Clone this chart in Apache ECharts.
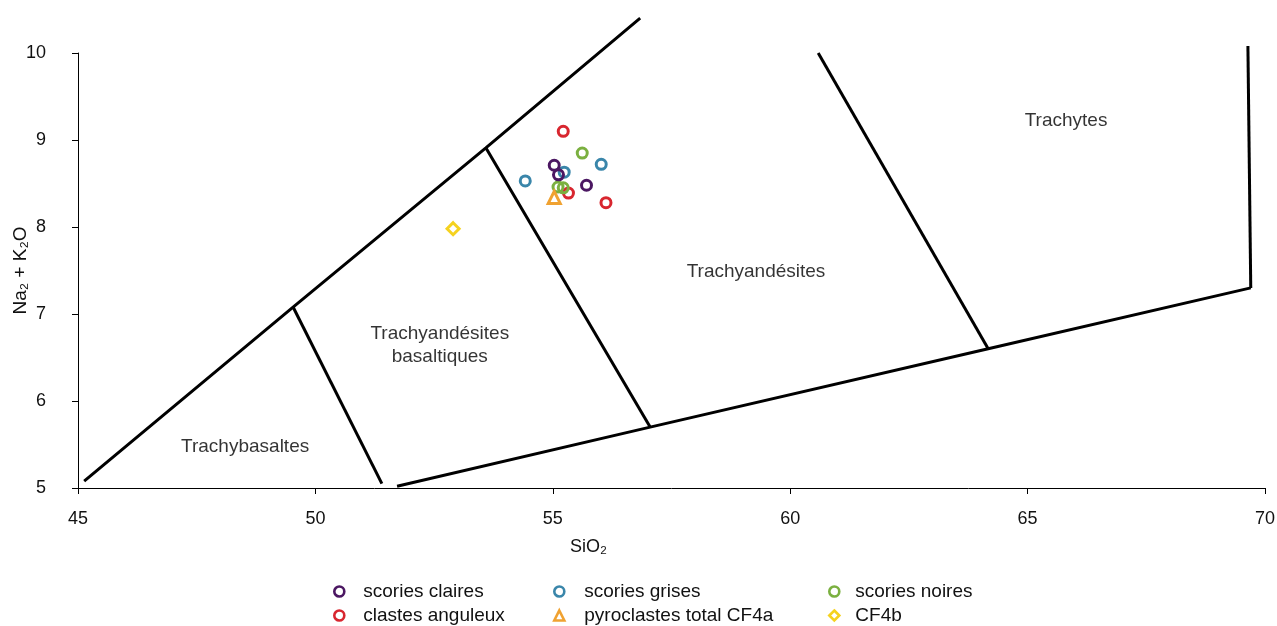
<!DOCTYPE html>
<html>
<head>
<meta charset="utf-8">
<script src="https://cdn.jsdelivr.net/npm/echarts@6/dist/echarts.min.js"></script>
<style>
html,body{margin:0;padding:0;background:#fff;}
#chart{width:1277px;height:626px;}
</style>
</head>
<body>
<div id="chart"></div>
<script>
// ---- data (SiO2, Na2O+K2O) ----
const scoriesClaires = [[55.03, 8.71], [55.12, 8.60], [55.71, 8.48]];
const scoriesGrises = [[56.02, 8.72], [55.24, 8.63], [54.42, 8.53]];
const scoriesNoires = [[55.62, 8.85], [55.11, 8.46], [55.22, 8.45]];
const clastesAnguleux = [[55.22, 9.10], [55.33, 8.39], [56.12, 8.28]];
const pyroclastesCF4a = [[55.03, 8.34]];
const cf4b = [[52.90, 7.98]];

// TAS field boundaries (data coordinates)
const boundaryUpper = [[45.13, 5.08], [49.53, 7.08], [53.59, 8.91], [56.84, 10.40]];
const boundaryTB = [[49.53, 7.08], [51.40, 5.05]];
const boundaryTBA = [[53.59, 8.91], [57.05, 5.70]];
const boundaryLower = [[51.72, 5.02], [57.05, 5.70], [64.17, 6.60], [69.70, 7.30]];
const boundaryTA = [[60.59, 10.0], [64.17, 6.60]];
const boundaryRight = [[69.70, 7.30], [69.64, 10.08]];

const fieldLabels = [
  {name: 'Trachytes', value: [65.81, 9.22]},
  {name: 'Trachyandésites', value: [59.28, 7.49]},
  {name: 'Trachyandésites\nbasaltiques', value: [52.62, 6.64]},
  {name: 'Trachybasaltes', value: [48.52, 5.47]}
];

const xTicks = [45, 50, 55, 60, 65, 70];
const yTicks = [5, 6, 7, 8, 9, 10];

const legendRows = [
  ['scories claires', 'scories grises', 'scories noires'],
  ['clastes anguleux', 'pyroclastes total CF4a', 'CF4b']
];

const FONT = '"Liberation Sans", Arial, Helvetica, sans-serif';
const colors = {
  claires: '#4b1762',
  grises: '#3a86aa',
  noires: '#7bb040',
  clastes: '#d8262f',
  cf4a: '#f0a231',
  cf4b: '#f5d21f'
};

function boundary(data) {
  return {
    type: 'line', data: data, symbol: 'none', clip: false, silent: true,
    lineStyle: {color: '#000', width: 3}, z: 1, legendHoverLink: false
  };
}
function pts(name, data, color, symbol, size) {
  return {
    name: name, type: 'scatter', data: data, symbol: symbol, symbolSize: size, clip: false,
    itemStyle: {color: 'rgba(255,255,255,0)', borderColor: color, borderWidth: 3, opacity: 1},
    z: 5
  };
}

// legend column layout: icon left edge and text padding
const colLeft = [333, 553, 828];
const colPad = [14, 15, 11];
const rowTop = [582, 606];
const legends = [];
legendRows.forEach((row, r) => {
  row.forEach((name, c) => {
    legends.push({
      orient: 'horizontal', left: colLeft[c], top: rowTop[r],
      itemWidth: 10, itemHeight: 10, padding: 0,
      textStyle: {fontFamily: FONT, fontSize: 19, color: '#111', padding: [0, 0, 0, colPad[c]]},
      itemStyle: {borderWidth: 2.6},
      data: [name]
    });
  });
});

const chart = echarts.init(document.getElementById('chart'), null, {renderer: 'canvas'});
chart.setOption({
  animation: false,
  backgroundColor: '#fff',
  grid: {left: 78, right: 12, top: 53, bottom: 138, containLabel: false, outerBoundsMode: 'none'},
  xAxis: {
    type: 'value', min: xTicks[0], max: xTicks[xTicks.length - 1], interval: 5,
    name: 'SiO₂', nameLocation: 'middle', nameGap: 50, nameMoveOverlap: false,
    nameTextStyle: {fontFamily: FONT, fontSize: 18, color: '#111', padding: [0, 166, 0, 0]},
    axisLine: {show: true, lineStyle: {color: '#000', width: 1}},
    axisTick: {show: true, length: 6, lineStyle: {color: '#000'}},
    axisLabel: {fontFamily: FONT, fontSize: 18, color: '#111', margin: 22},
    splitLine: {show: false}
  },
  yAxis: {
    type: 'value', min: yTicks[0], max: yTicks[yTicks.length - 1], interval: 1,
    name: 'Na₂ + K₂O', nameLocation: 'middle', nameGap: 48, nameRotate: 90, nameMoveOverlap: false,
    nameTextStyle: {fontFamily: FONT, fontSize: 19, color: '#111'},
    axisLine: {show: true, lineStyle: {color: '#000', width: 1}},
    axisTick: {show: true, length: 6, lineStyle: {color: '#000'}},
    axisLabel: {fontFamily: FONT, fontSize: 18, color: '#111', margin: 32},
    splitLine: {show: false}
  },
  legend: legends,
  series: [
    boundary(boundaryUpper),
    boundary(boundaryTB),
    boundary(boundaryTBA),
    boundary(boundaryLower),
    boundary(boundaryTA),
    boundary(boundaryRight),
    {
      type: 'scatter', data: fieldLabels, symbolSize: 0, silent: true, z: 2,
      label: {
        show: true, position: 'inside', formatter: p => p.name,
        fontFamily: FONT, fontSize: 19, color: '#000', lineHeight: 23, align: 'center'
      }
    },
    pts('scories grises', scoriesGrises, colors.grises, 'circle', 10),
    pts('clastes anguleux', clastesAnguleux, colors.clastes, 'circle', 10),
    pts('scories noires', scoriesNoires, colors.noires, 'circle', 10),
    pts('scories claires', scoriesClaires, colors.claires, 'circle', 10),
    pts('pyroclastes total CF4a', pyroclastesCF4a, colors.cf4a, 'triangle', 12),
    pts('CF4b', cf4b, colors.cf4b, 'diamond', 12)
  ]
});
</script>
</body>
</html>
